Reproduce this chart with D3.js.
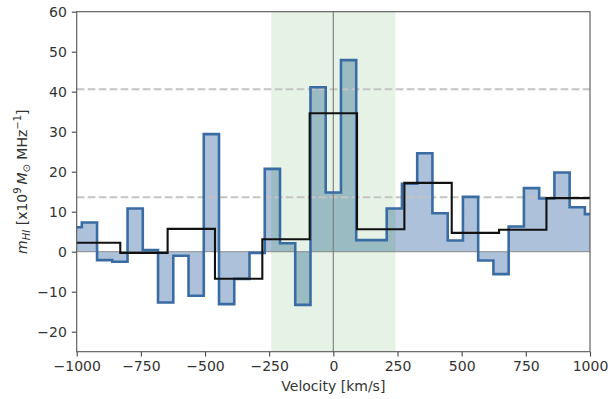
<!DOCTYPE html>
<html>
<head>
<meta charset="utf-8">
<script src="https://cdn.jsdelivr.net/npm/d3@7"></script>
<style>
  html, body { margin: 0; padding: 0; background: #fff; }
  svg { display: block; font-family: "DejaVu Sans", sans-serif; }
</style>
</head>
<body>
<svg id="chart" width="612" height="399"></svg>
<script>
// ---- Data ----
const blueCenters = [-1009.8, -950.4, -891.0, -831.6, -772.2, -712.8, -653.4, -594.0, -534.6, -475.2,
  -415.8, -356.4, -297.0, -237.6, -178.2, -118.8, -59.4, 0, 59.4, 118.8, 178.2, 237.6, 297.0,
  356.4, 415.8, 475.2, 534.6, 594.0, 653.4, 712.8, 772.2, 831.6, 891.0, 950.4, 1009.8];
const blueWidth = 59.4;
const blueValues = [6.1, 7.3, -2.1, -2.5, 10.8, 0.4, -12.7, -1.0, -11.0, 29.4,
  -13.1, -6.8, -0.3, 20.7, 2.1, -13.3, 41.1, 14.8, 47.9, 2.9, 2.9, 10.8, 17.0,
  24.6, 9.6, 2.8, 13.7, -2.2, -5.6, 6.3, 15.9, 13.3, 19.8, 11.1, 9.4];

const blackCenters = [-922.5, -738, -553.5, -369, -184.5, 0, 184.5, 369, 553.5, 738, 922.5];
const blackWidth = 184.5;
const blackValues = [2.25, -0.3, 5.7, -6.75, 3.1, 34.6, 5.6, 17.2, 4.7, 5.5, 13.4];

const spanRange = [-242, 242];
const dashedLevels = [40.6, 13.6];

const xTicks = [-1000, -750, -500, -250, 0, 250, 500, 750, 1000];
const yTicks = [-20, -10, 0, 10, 20, 30, 40, 50, 60];
const xDomain = [-1000, 1000];
const yDomain = [-25, 60];

// ---- Layout ----
const L = 76.7, R = 590, T = 11.7, B = 351.7;
const svg = d3.select("#chart");
const x = d3.scaleLinear().domain(xDomain).range([L, R]);
const y = d3.scaleLinear().domain(yDomain).range([B, T]);

svg.append("defs").append("clipPath").attr("id", "clip")
  .append("rect").attr("x", L).attr("y", T).attr("width", R - L).attr("height", B - T);

const plot = svg.append("g").attr("clip-path", "url(#clip)");

function stepPoints(centers, vals, w) {
  const pts = [];
  centers.forEach((c, i) => {
    pts.push([c - w / 2, vals[i]]);
    pts.push([c + w / 2, vals[i]]);
  });
  return pts;
}
const bluePts = stepPoints(blueCenters, blueValues, blueWidth);
const blackPts = stepPoints(blackCenters, blackValues, blackWidth);

// blue fill
plot.append("path")
  .attr("d", d3.area().x(d => x(d[0])).y0(y(0)).y1(d => y(d[1]))(bluePts))
  .attr("fill", "rgb(173,194,218)");

// green span
plot.append("rect")
  .attr("x", x(spanRange[0])).attr("width", x(spanRange[1]) - x(spanRange[0]))
  .attr("y", T).attr("height", B - T)
  .attr("fill", "green").attr("opacity", 0.1);

// dashed lines
dashedLevels.forEach(v => {
  plot.append("line")
    .attr("x1", L).attr("x2", R).attr("y1", y(v)).attr("y2", y(v))
    .attr("stroke", "#c4c4c4").attr("stroke-width", 2)
    .attr("stroke-dasharray", "7.7,3.3");
});

// zero lines
plot.append("line")
  .attr("x1", L).attr("x2", R).attr("y1", y(0)).attr("y2", y(0))
  .attr("stroke", "#808080").attr("stroke-width", 1.3).attr("opacity", 0.7);
plot.append("line")
  .attr("x1", x(0)).attr("x2", x(0)).attr("y1", T).attr("y2", B)
  .attr("stroke", "#808080").attr("stroke-width", 1.3).attr("opacity", 0.9);

// blue step line
plot.append("path")
  .attr("d", d3.line().x(d => x(d[0])).y(d => y(d[1]))(bluePts))
  .attr("fill", "none").attr("stroke", "rgb(58,108,164)").attr("stroke-width", 2.6)
  .attr("stroke-linejoin", "miter");

// black step line
plot.append("path")
  .attr("d", d3.line().x(d => x(d[0])).y(d => y(d[1]))(blackPts))
  .attr("fill", "none").attr("stroke", "#111").attr("stroke-width", 2.1);

// ---- Axes ----
const xAxis = d3.axisBottom(x).tickValues(xTicks).tickSize(4.9).tickPadding(4.9)
  .tickFormat(d => d < 0 ? "\u2212" + Math.abs(d) : String(d));
const yAxis = d3.axisLeft(y).tickValues(yTicks).tickSize(4.9).tickPadding(4.9)
  .tickFormat(d => d < 0 ? "\u2212" + Math.abs(d) : String(d));

const gx = svg.append("g").attr("transform", `translate(0,${B})`).call(xAxis);
const gy = svg.append("g").attr("transform", `translate(${L},0)`).call(yAxis);
[gx, gy].forEach(g => {
  g.select(".domain").remove();
  g.selectAll(".tick line").attr("stroke", "#444").attr("stroke-width", 1.1);
  g.selectAll(".tick text").attr("fill", "#333").style("font-size", "14px")
    .style("font-family", "'DejaVu Sans', sans-serif");
});

// frame
svg.append("rect").attr("x", L).attr("y", T).attr("width", R - L).attr("height", B - T)
  .attr("fill", "none").attr("stroke", "#555").attr("stroke-width", 1.1);

// x label
svg.append("text").attr("x", (L + R) / 2).attr("y", 391)
  .attr("text-anchor", "middle").attr("fill", "#333").style("font-size", "14px")
  .text("Velocity [km/s]");

// y label
const yl = svg.append("text")
  .attr("transform", `translate(26.7,${(T + B) / 2}) rotate(-90)`)
  .attr("text-anchor", "middle").attr("fill", "#333").style("font-size", "14px");
yl.append("tspan").style("font-style", "italic").text("m");
yl.append("tspan").style("font-style", "italic").style("font-size", "10px").attr("dy", 3).text("HI");
yl.append("tspan").attr("dy", -3).text(" [x10");
yl.append("tspan").style("font-size", "10px").attr("dy", -5.5).text("9");
yl.append("tspan").attr("dy", 5.5).style("font-style", "italic").text("\u2009M");
yl.append("tspan").style("font-size", "10px").attr("dy", 3).text("\u2299");
yl.append("tspan").attr("dy", -3).text(" MHz");
yl.append("tspan").style("font-size", "10px").attr("dy", -5.5).text("\u22121");
yl.append("tspan").attr("dy", 5.5).text("]");
</script>
</body>
</html>
